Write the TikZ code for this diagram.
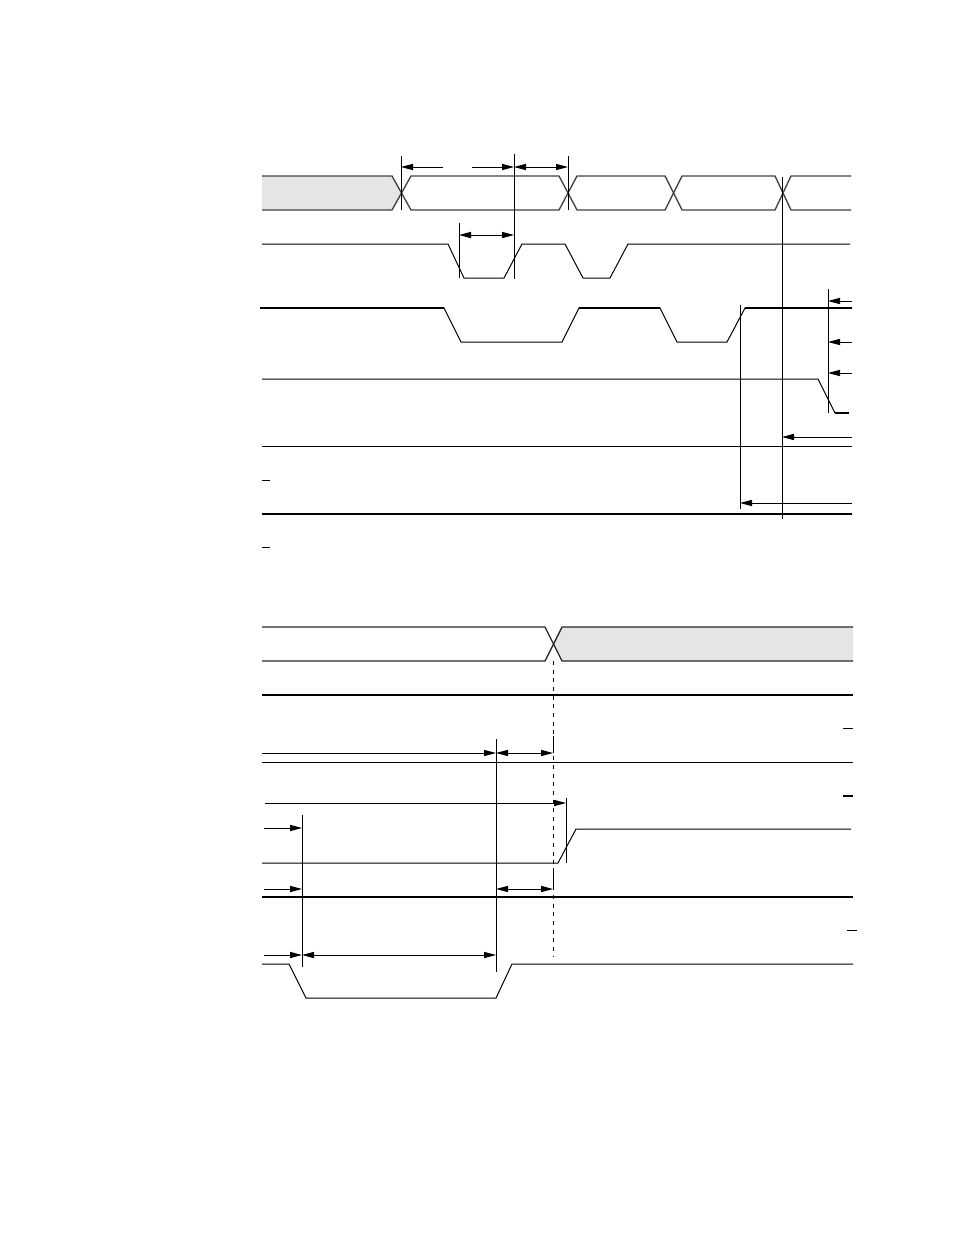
\documentclass[tikz,border=0pt]{standalone}
\usetikzlibrary{arrows.meta}
\begin{document}
\begin{tikzpicture}[x=0.75pt,y=-0.75pt,
  thinline/.style={line width=0.75pt, line join=miter},
  thickline/.style={line width=1.8pt},
  busline/.style={line width=1pt, draw=black!75},
  busfill/.style={fill=black!10},
  tip/.tip={Triangle[length=9pt,width=4.6pt]},
  dimone/.style={line width=0.75pt, -tip},
  dimtwo/.style={line width=0.75pt, tip-tip},
  extline/.style={line width=0.75pt},
  dashext/.style={line width=0.75pt, dash pattern=on 3pt off 3.5pt},
  barmark/.style={line width=0.75pt}]
\useasboundingbox (0,0) rectangle (954,1235);

% ---------------- upper diagram ----------------
% named time marks
\coordinate (tA) at (401,167);
\coordinate (tB) at (514,167);
\coordinate (tC) at (568,167);
\coordinate (tD) at (459,235);
\coordinate (tE) at (514,235);

% bus
\fill[busfill] (262,176) -- (392,176) -- (401,193) -- (392,210) -- (262,210) -- cycle;
\draw[busline] (262,176) -- (392,176) -- (411,210) -- (559,210) -- (577,176) -- (665,176) -- (682,210) -- (775,210) -- (791,176) -- (851,176);
\draw[busline] (262,210) -- (392,210) -- (411,176) -- (559,176) -- (577,210) -- (665,210) -- (682,176) -- (775,176) -- (791,210) -- (851,210);

% signal 2
\draw[thinline] (262,244) -- (448,244) -- (464,278) -- (504,278) -- (522,244) -- (565,244) -- (583,278) -- (610,278) -- (628,244) -- (850,244);

% signal 3
\draw[thinline] (260,308) -- (444,308) -- (461,342) -- (562,342) -- (579,308) -- (660,308) -- (677,342) -- (727,342) -- (745,308) -- (852,308);
\draw[thickline] (260,308) -- (444,308);
\draw[thickline] (579,308) -- (660,308);
\draw[thickline] (745,308) -- (852,308);

% signal 4
\draw[thinline] (262,379) -- (818,379) -- (835,413);
\draw[thickline] (835,413) -- (849,413);

% signal 5, 6
\draw[thinline] (262,446) -- (852,446);
\draw[thickline] (262,514) -- (852,514);

% overbar marks
\draw[barmark] (262,480) -- (270,480);
\draw[barmark] (262,547) -- (270,547);

% extension lines
\draw[extline] (401,156) -- (401,210);
\draw[extline] (514,154) -- (514,279);
\draw[extline] (568,156) -- (568,210);
\draw[extline] (459,223) -- (459,278);
\draw[extline] (740,305) -- (740,509);
\draw[extline] (782,177) -- (782,519);
\draw[extline] (828,289) -- (828,413);

% dimension arrows
\coordinate (a1) at (443,167);
\coordinate (a2) at (472,167);
\draw[dimone] (a1) -- (tA);
\draw[dimone] (a2) -- (tB);
\draw[dimtwo] (tB) -- (tC);
\draw[dimtwo] (tD) -- (tE);

\coordinate (r1) at (852,301); \coordinate (e1) at (828,301);
\coordinate (r2) at (852,342); \coordinate (e2) at (828,342);
\coordinate (r3) at (852,373); \coordinate (e3) at (828,373);
\coordinate (r4) at (852,437); \coordinate (e4) at (782,437);
\coordinate (r5) at (852,503); \coordinate (e5) at (740,503);
\draw[dimone] (r1) -- (e1);
\draw[dimone] (r2) -- (e2);
\draw[dimone] (r3) -- (e3);
\draw[dimone] (r4) -- (e4);
\draw[dimone] (r5) -- (e5);

% ---------------- lower diagram ----------------
\fill[busfill] (562,627) -- (853,627) -- (853,661) -- (562,661) -- (553,644) -- cycle;
\draw[busline, draw=black!85] (262,627) -- (545,627) -- (562,661) -- (853,661);
\draw[busline, draw=black!85] (262,661) -- (545,661) -- (562,627) -- (853,627);

\draw[thickline] (262,695) -- (853,695);
\draw[thinline] (262,762) -- (853,762);
\draw[thickline] (262,897) -- (853,897);

% signals
\draw[thinline] (262,863) -- (558,863) -- (576,829) -- (851,829);
\draw[thinline] (262,964) -- (289,964) -- (306,998) -- (496,998) -- (512,964) -- (853,964);

% overbar marks
\draw[barmark] (843,728) -- (853,728);
\draw[barmark, line width=1.3pt] (843,796) -- (853,796);
\draw[barmark] (847,930) -- (857,930);

% extension lines
\draw[dashext] (553,661) -- (553,957);
\draw[extline] (553,736) -- (553,753);
\draw[extline] (553,868) -- (553,889);
\draw[extline] (496,739) -- (496,972);
\draw[extline] (566,798) -- (566,863);
\draw[extline] (302,815) -- (302,967);

% dimension arrows
\coordinate (b1s) at (262,753); \coordinate (b1e) at (496,753); \coordinate (b1f) at (553,753);
\draw[dimone] (b1s) -- (b1e);
\draw[dimtwo] (b1e) -- (b1f);
\coordinate (b2s) at (265,803); \coordinate (b2e) at (566,803);
\draw[dimone] (b2s) -- (b2e);
\coordinate (b3s) at (264,828); \coordinate (b3e) at (302,828);
\draw[dimone] (b3s) -- (b3e);
\coordinate (b4s) at (264,889); \coordinate (b4e) at (302,889);
\draw[dimone] (b4s) -- (b4e);
\coordinate (b5s) at (496,889); \coordinate (b5e) at (553,889);
\draw[dimtwo] (b5s) -- (b5e);
\coordinate (b6s) at (264,955); \coordinate (b6e) at (302,955); \coordinate (b6f) at (496,955);
\draw[dimone] (b6s) -- (b6e);
\draw[dimtwo] (b6e) -- (b6f);
\end{tikzpicture}
\end{document}
